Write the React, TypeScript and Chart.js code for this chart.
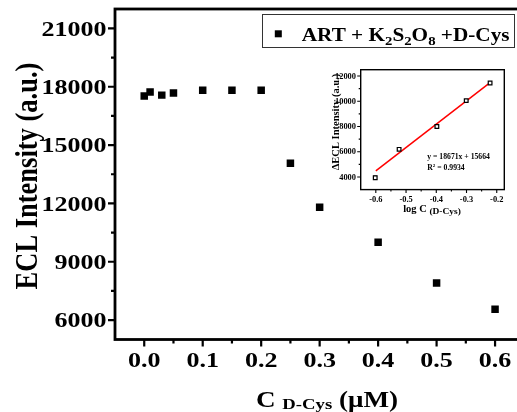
import React, { useEffect, useRef } from 'react';
import { Chart, registerables } from 'chart.js';

Chart.register(...registerables);

// ---------- main data ----------
const concentrations = [0, 0.01, 0.03, 0.05, 0.1, 0.15, 0.2, 0.25, 0.3, 0.4, 0.5, 0.6];
const eclIntensity = [17520, 17730, 17570, 17680, 17820, 17820, 17820, 14070, 11800, 10000, 7900, 6560];
const xTicks = [0, 0.1, 0.2, 0.3, 0.4, 0.5, 0.6];
const xTickLabels = ['0.0', '0.1', '0.2', '0.3', '0.4', '0.5', '0.6'];
const xMinorTicks = [0.05, 0.15, 0.25, 0.35, 0.45, 0.55];
const yTicks = [6000, 9000, 12000, 15000, 18000, 21000];
const yTickLabels = ['6000', '9000', '12000', '15000', '18000', '21000'];
const yMinorTicks = [7500, 10500, 13500, 16500, 19500];

// ---------- inset data ----------
const logC = [-0.602, -0.523, -0.398, -0.301, -0.222];
const deltaEcl = [3940, 6190, 8000, 10050, 11450];
const deltaErr = [130, 70, 90, 60, 60];
const fitX = [-0.6, -0.22];
const fitY = [4480, 11520];
const insetXTicks = [-0.6, -0.5, -0.4, -0.3, -0.2];
const insetXTickLabels = ['-0.6', '-0.5', '-0.4', '-0.3', '-0.2'];
const insetXMinor = [-0.55, -0.45, -0.35, -0.25];
const insetYTicks = [4000, 6000, 8000, 10000, 12000];
const insetYTickLabels = ['4000', '6000', '8000', '10000', '12000'];
const insetYMinor = [5000, 7000, 9000, 11000];

const FAMILY = '"Liberation Serif", "Times New Roman", serif';
const SX = 1.2;

type Seg = { text: string; size: number; dy?: number };

function fontOf(size: number) {
  return `bold ${size}px ${FAMILY}`;
}

function drawRich(ctx: CanvasRenderingContext2D, segs: Seg[], x: number, y: number, align: 'left' | 'center' | 'right', sx: number) {
  const widths = segs.map((s) => {
    ctx.font = fontOf(s.size);
    return ctx.measureText(s.text).width * sx;
  });
  const total = widths.reduce((a, b) => a + b, 0);
  let cx = align === 'left' ? x : align === 'center' ? x - total / 2 : x - total;
  segs.forEach((s, i) => {
    ctx.save();
    ctx.font = fontOf(s.size);
    ctx.textAlign = 'left';
    ctx.textBaseline = 'alphabetic';
    ctx.fillStyle = '#000';
    ctx.translate(cx, y + (s.dy || 0));
    ctx.scale(sx, 1);
    ctx.fillText(s.text, 0, 0);
    ctx.restore();
    cx += widths[i];
  });
}

function drawRotated(ctx: CanvasRenderingContext2D, text: string, x: number, y: number, size: number, sx: number) {
  ctx.save();
  ctx.font = fontOf(size);
  ctx.fillStyle = '#000';
  ctx.textAlign = 'center';
  ctx.textBaseline = 'alphabetic';
  ctx.translate(x, y);
  ctx.scale(sx, 1);
  ctx.rotate(-Math.PI / 2);
  ctx.fillText(text, 0, 0);
  ctx.restore();
}

const mainDecor = {
  id: 'mainDecor',
  afterDraw(chart: any) {
    const { ctx, chartArea: a, scales } = chart;
    const xs = scales.x;
    const ys = scales.y;
    ctx.save();
    ctx.strokeStyle = '#000';
    ctx.lineWidth = 2.2;
    ctx.beginPath();
    xTicks.forEach((v) => {
      const p = xs.getPixelForValue(v);
      ctx.moveTo(p, a.bottom);
      ctx.lineTo(p, a.bottom + 7);
    });
    xMinorTicks.forEach((v) => {
      const p = xs.getPixelForValue(v);
      ctx.moveTo(p, a.bottom);
      ctx.lineTo(p, a.bottom + 4);
    });
    yTicks.forEach((v) => {
      const p = ys.getPixelForValue(v);
      ctx.moveTo(a.left, p);
      ctx.lineTo(a.left - 7, p);
    });
    yMinorTicks.forEach((v) => {
      const p = ys.getPixelForValue(v);
      ctx.moveTo(a.left, p);
      ctx.lineTo(a.left - 4, p);
    });
    ctx.stroke();
    ctx.lineWidth = 2.8;
    ctx.strokeRect(a.left, a.top, a.right - a.left, a.bottom - a.top);

    // tick labels
    xTicks.forEach((v, i) => {
      drawRich(ctx, [{ text: xTickLabels[i], size: 21.7 }], xs.getPixelForValue(v), 367, 'center', SX);
    });
    yTicks.forEach((v, i) => {
      drawRich(ctx, [{ text: yTickLabels[i], size: 21.7 }], 106.5, ys.getPixelForValue(v) + 7.4, 'right', SX);
    });

    // axis titles
    drawRotated(ctx, 'ECL Intensity (a.u.)', 37, 176, 26.5, SX);
    drawRich(
      ctx,
      [
        { text: 'C ', size: 22.6 },
        { text: 'D-Cys', size: 15.6, dy: 2 },
        { text: ' (μM)', size: 22.6 },
      ],
      327,
      407,
      'center',
      SX
    );

    // legend
    ctx.lineWidth = 1;
    ctx.strokeStyle = '#333';
    ctx.strokeRect(262.5, 14.5, 252, 33);
    ctx.fillStyle = '#000';
    ctx.fillRect(274.8, 30.3, 7, 7);
    drawRich(
      ctx,
      [
        { text: 'ART + K', size: 18 },
        { text: '2', size: 12.5, dy: 4 },
        { text: 'S', size: 18 },
        { text: '2', size: 12.5, dy: 4 },
        { text: 'O', size: 18 },
        { text: '8', size: 12.5, dy: 4 },
        { text: ' +D-Cys', size: 18 },
      ],
      301.7,
      40.5,
      'left',
      1.18
    );
    ctx.restore();
  },
};

const insetDecor = {
  id: 'insetDecor',
  beforeDatasetsDraw(chart: any) {
    const { ctx, scales } = chart;
    const xs = scales.x;
    const ys = scales.y;
    ctx.save();
    ctx.strokeStyle = '#000';
    ctx.lineWidth = 0.9;
    ctx.beginPath();
    logC.forEach((v, i) => {
      const px = xs.getPixelForValue(v);
      const top = ys.getPixelForValue(deltaEcl[i] + deltaErr[i]);
      const bot = ys.getPixelForValue(deltaEcl[i] - deltaErr[i]);
      ctx.moveTo(px, top);
      ctx.lineTo(px, bot);
      ctx.moveTo(px - 2, top);
      ctx.lineTo(px + 2, top);
      ctx.moveTo(px - 2, bot);
      ctx.lineTo(px + 2, bot);
    });
    ctx.stroke();
    ctx.restore();
  },
  afterDraw(chart: any) {
    const { ctx, chartArea: a, scales } = chart;
    const xs = scales.x;
    const ys = scales.y;
    ctx.save();
    ctx.strokeStyle = '#000';
    ctx.lineWidth = 1.1;
    ctx.beginPath();
    insetXTicks.forEach((v) => {
      const p = xs.getPixelForValue(v);
      ctx.moveTo(p, a.bottom);
      ctx.lineTo(p, a.bottom + 3.5);
    });
    insetXMinor.forEach((v) => {
      const p = xs.getPixelForValue(v);
      ctx.moveTo(p, a.bottom);
      ctx.lineTo(p, a.bottom + 2);
    });
    insetYTicks.forEach((v) => {
      const p = ys.getPixelForValue(v);
      ctx.moveTo(a.left, p);
      ctx.lineTo(a.left - 3.5, p);
    });
    insetYMinor.forEach((v) => {
      const p = ys.getPixelForValue(v);
      ctx.moveTo(a.left, p);
      ctx.lineTo(a.left - 2, p);
    });
    ctx.stroke();
    ctx.lineWidth = 1.4;
    ctx.strokeRect(a.left, a.top, a.right - a.left, a.bottom - a.top);

    insetXTicks.forEach((v, i) => {
      drawRich(ctx, [{ text: insetXTickLabels[i], size: 8 }], xs.getPixelForValue(v), 147.3, 'center', 1.05);
    });
    insetYTicks.forEach((v, i) => {
      drawRich(ctx, [{ text: insetYTickLabels[i], size: 8 }], 36, ys.getPixelForValue(v) + 2.7, 'right', 1.05);
    });
    drawRotated(ctx, 'ΔECL Intensity (a.u.)', 18.5, 67, 10.5, 1.05);
    drawRich(
      ctx,
      [
        { text: 'log C ', size: 10 },
        { text: '(D-Cys)', size: 9, dy: 2 },
      ],
      112,
      156.5,
      'center',
      1.05
    );
    drawRich(ctx, [{ text: 'y = 18671x + 15664', size: 7.7 }], 107.3, 104.3, 'left', 1.0);
    drawRich(
      ctx,
      [
        { text: 'R', size: 7.7 },
        { text: '2', size: 5, dy: -3.5 },
        { text: ' = 0.9934', size: 7.7 },
      ],
      107.3,
      115,
      'left',
      1.0
    );
    ctx.restore();
  },
};

export default function App() {
  const mainRef = useRef<HTMLCanvasElement | null>(null);
  const insetRef = useRef<HTMLCanvasElement | null>(null);

  useEffect(() => {
    document.body.style.overflow = 'hidden';
    const mainChart = new Chart(mainRef.current as HTMLCanvasElement, {
      type: 'scatter',
      data: {
        datasets: [
          {
            data: concentrations.map((c, i) => ({ x: c, y: eclIntensity[i] })),
            pointStyle: 'rect',
            pointRadius: 5.3,
            pointBorderWidth: 0,
            backgroundColor: '#000',
            borderColor: '#000',
          },
        ],
      },
      options: {
        animation: false,
        responsive: false,
        devicePixelRatio: 1,
        events: [],
        layout: { padding: { top: 9, right: 35.7, left: 0, bottom: 0 } },
        plugins: { legend: { display: false }, tooltip: { enabled: false } },
        scales: {
          x: {
            type: 'linear',
            min: -0.05,
            max: 0.65,
            ticks: { display: false },
            grid: { display: false },
            border: { display: false },
            afterFit: (s: any) => {
              s.height = 72.5;
            },
          },
          y: {
            type: 'linear',
            min: 5000,
            max: 22000,
            ticks: { display: false },
            grid: { display: false },
            border: { display: false },
            afterFit: (s: any) => {
              s.width = 115;
            },
          },
        },
      },
      plugins: [mainDecor],
    } as any);

    const insetChart = new Chart(insetRef.current as HTMLCanvasElement, {
      type: 'scatter',
      data: {
        datasets: [
          {
            data: logC.map((c, i) => ({ x: c, y: deltaEcl[i] })),
            pointStyle: 'rect',
            pointRadius: 2.6,
            pointBorderWidth: 1.2,
            backgroundColor: '#fff',
            borderColor: '#000',
          },
          {
            data: fitX.map((c, i) => ({ x: c, y: fitY[i] })),
            showLine: true,
            borderColor: '#ff0000',
            borderWidth: 1.5,
            pointRadius: 0,
          },
        ],
      },
      options: {
        animation: false,
        responsive: false,
        devicePixelRatio: 1,
        events: [],
        layout: { padding: { top: 14.7, right: 15.7, left: 0, bottom: 0 } },
        plugins: { legend: { display: false }, tooltip: { enabled: false } },
        scales: {
          x: {
            type: 'linear',
            min: -0.65,
            max: -0.175,
            ticks: { display: false },
            grid: { display: false },
            border: { display: false },
            afterFit: (s: any) => {
              s.height = 35.4;
            },
          },
          y: {
            type: 'linear',
            min: 3000,
            max: 12500,
            ticks: { display: false },
            grid: { display: false },
            border: { display: false },
            afterFit: (s: any) => {
              s.width = 40.7;
            },
          },
        },
      },
      plugins: [insetDecor],
    } as any);

    return () => {
      mainChart.destroy();
      insetChart.destroy();
    };
  }, []);

  return (
    <div
      style={{
        position: 'fixed',
        left: 0,
        top: 0,
        width: 517,
        height: 412,
        overflow: 'hidden',
        background: '#fff',
      }}
    >
      <canvas ref={mainRef} width={560} height={412} style={{ position: 'absolute', left: 0, top: 0, display: 'block' }} />
      <canvas ref={insetRef} width={200} height={170} style={{ position: 'absolute', left: 320, top: 55, display: 'block' }} />
    </div>
  );
}
